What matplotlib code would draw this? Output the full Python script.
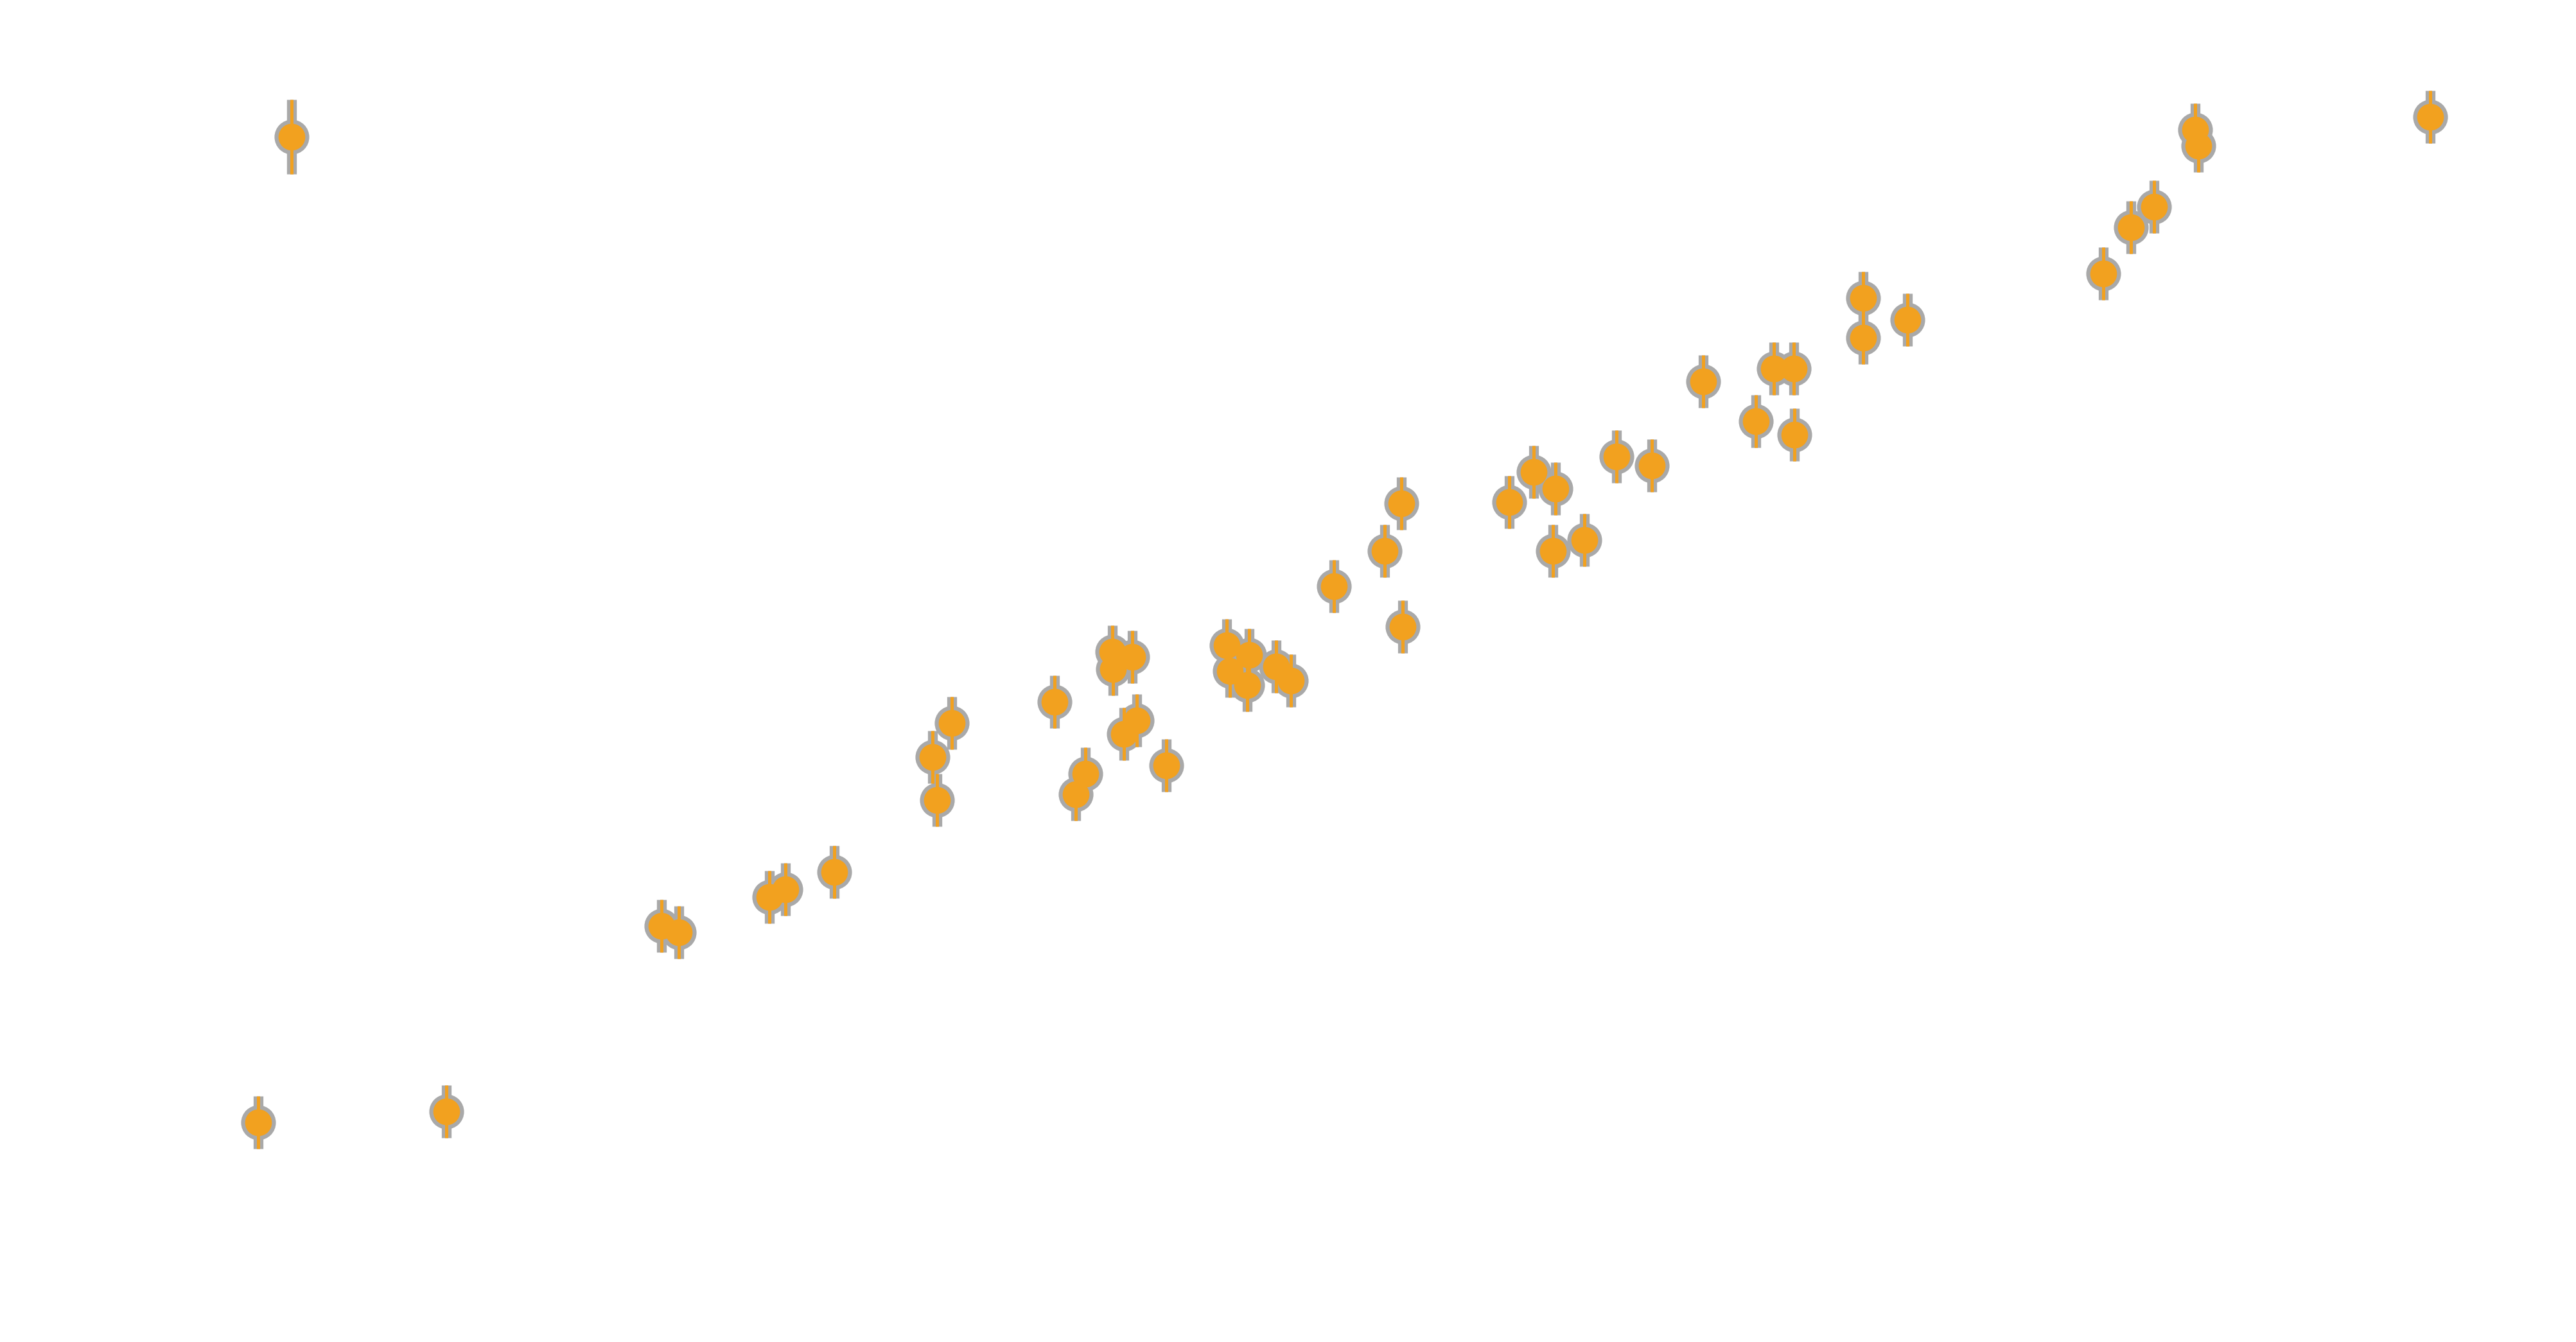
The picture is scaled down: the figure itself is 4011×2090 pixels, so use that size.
import numpy as np
import matplotlib.pyplot as plt

x = [4.54, 4.02, 6.95, 10.30, 10.57, 11.98, 12.23, 12.99, 14.52, 14.82,
     14.59, 16.42, 17.32, 17.63, 17.33, 17.70, 17.50, 16.90, 16.75, 18.16,
     19.10, 19.45, 19.15, 19.42, 19.87, 20.10, 20.77, 21.56, 21.82, 21.84,
     23.50, 23.88, 24.22, 24.18, 24.67, 25.17, 25.72, 26.52, 27.62, 27.93,
     27.34, 27.94, 29.01, 29.01, 29.70, 32.75, 33.18, 33.54, 34.18, 34.23,
     37.84]
y = [18.77, 3.42, 3.59, 6.48, 6.38, 6.93, 7.05, 7.32, 9.11, 9.64,
     8.44, 9.97, 10.75, 10.67, 10.48, 9.68, 9.47, 8.85, 8.53, 8.98,
     10.85, 10.70, 10.45, 10.23, 10.52, 10.30, 11.77, 12.32, 13.06, 11.14,
     13.08, 13.55, 13.29, 12.32, 12.49, 13.79, 13.65, 14.96, 15.16, 15.16,
     14.34, 14.13, 16.26, 15.64, 15.92, 16.64, 17.36, 17.68, 18.88, 18.63,
     19.08]
yerr = [0.58] + [0.41] * 50

orange = '#f2a11f'
grey = '#a9a9a9'

fig = plt.figure(figsize=(40.12, 20.90), dpi=100)
ax = fig.add_axes([0, 0, 1, 1])

# grey halo underneath
ax.errorbar(x, y, yerr=yerr, fmt='o', color=grey, ms=39, mew=0,
            elinewidth=11, capsize=0, zorder=1)
# orange points on top
ax.errorbar(x, y, yerr=yerr, fmt='o', color=orange, ms=30, mew=0,
            elinewidth=3.6, capsize=0, zorder=2)

ax.set_xlim(0, 40.12)
ax.set_ylim(0, 20.90)
ax.axis('off')

fig.savefig('out.png', dpi=100, facecolor='white')
